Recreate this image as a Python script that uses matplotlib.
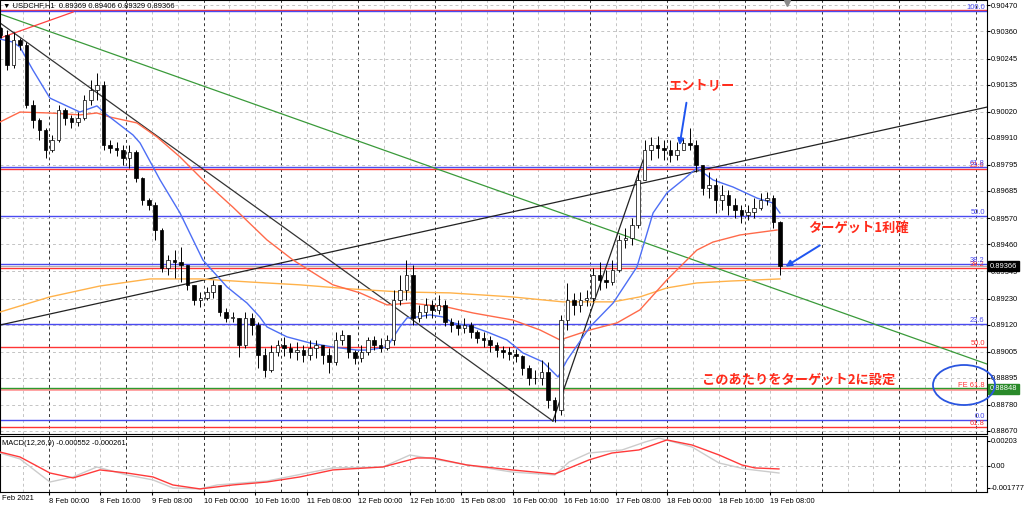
import numpy as np
import matplotlib
matplotlib.use("Agg")
import matplotlib.pyplot as plt
from matplotlib.patches import Rectangle, Ellipse

plt.rcParams['font.family'] = ['Liberation Sans', 'DejaVu Sans']

# ---- price data (2-hour candles, bar index in H1 units) ----
first_bar = -15
first_open = 0.90375
closes = [0.90345, 0.90218, 0.90324, 0.90303, 0.90049, 0.89985, 0.89943, 0.89858, 0.89901, 0.90028,
          0.89994, 0.89977, 0.89994, 0.90070, 0.90112, 0.90133, 0.89880, 0.89867, 0.89858, 0.89825,
          0.89850, 0.89740, 0.89647, 0.89626, 0.89520, 0.89359, 0.89393, 0.89385, 0.89372, 0.89288,
          0.89224, 0.89233, 0.89258, 0.89288, 0.89173, 0.89148, 0.89148, 0.89034, 0.89148, 0.89118,
          0.88991, 0.88928, 0.89004, 0.89034, 0.89021, 0.89004, 0.89012, 0.88991, 0.89021, 0.89034,
          0.88991, 0.88962, 0.89055, 0.89076, 0.89004, 0.88978, 0.89004, 0.89055, 0.89034, 0.89021,
          0.89055, 0.89224, 0.89266, 0.89330, 0.89148, 0.89173, 0.89203, 0.89182, 0.89203, 0.89131,
          0.89118, 0.89105, 0.89118, 0.89089, 0.89063, 0.89055, 0.89034, 0.89012, 0.89004, 0.88995,
          0.88987, 0.88936, 0.88894, 0.88894, 0.88919, 0.88801, 0.88759, 0.89139, 0.89224, 0.89203,
          0.89224, 0.89233, 0.89330, 0.89309, 0.89300, 0.89351, 0.89478, 0.89486, 0.89541, 0.89732,
          0.89858, 0.89880, 0.89867, 0.89858, 0.89837, 0.89858, 0.89888, 0.89880, 0.89795, 0.89698,
          0.89710, 0.89647, 0.89668, 0.89626, 0.89605, 0.89584, 0.89596, 0.89613, 0.89647, 0.89655,
          0.89554, 0.89366]
highs = [0.90379, 0.90366, 0.90358, 0.90332, 0.90315, 0.90070, 0.89994, 0.89952, 0.89922, 0.90049,
         0.90036, 0.90007, 0.90019, 0.90091, 0.90155, 0.90184, 0.90150, 0.89901, 0.89892, 0.89880,
         0.89880, 0.89858, 0.89745, 0.89655, 0.89638, 0.89530, 0.89414, 0.89435, 0.89448, 0.89372,
         0.89288, 0.89258, 0.89279, 0.89309, 0.89288, 0.89190, 0.89173, 0.89148, 0.89173, 0.89169,
         0.89131, 0.89021, 0.89034, 0.89055, 0.89068, 0.89042, 0.89047, 0.89034, 0.89055, 0.89055,
         0.89034, 0.89021, 0.89089, 0.89097, 0.89076, 0.89012, 0.89034, 0.89068, 0.89072, 0.89063,
         0.89076, 0.89266, 0.89330, 0.89393, 0.89372, 0.89203, 0.89233, 0.89224, 0.89245, 0.89224,
         0.89148, 0.89139, 0.89148, 0.89131, 0.89097, 0.89089, 0.89072, 0.89047, 0.89030, 0.89025,
         0.89017, 0.88991, 0.88949, 0.88928, 0.88970, 0.88962, 0.88814, 0.89161, 0.89296, 0.89254,
         0.89258, 0.89266, 0.89359, 0.89385, 0.89351, 0.89393, 0.89499, 0.89529, 0.89571, 0.89774,
         0.89901, 0.89914, 0.89918, 0.89901, 0.89901, 0.89892, 0.89909, 0.89952, 0.89901, 0.89795,
         0.89765, 0.89740, 0.89710, 0.89689, 0.89655, 0.89626, 0.89626, 0.89655, 0.89677, 0.89681,
         0.89668, 0.89560]
lows = [0.90332, 0.90197, 0.90205, 0.90281, 0.90036, 0.89952, 0.89901, 0.89825, 0.89850, 0.89892,
        0.89964, 0.89952, 0.89960, 0.89985, 0.90049, 0.90070, 0.89858, 0.89846, 0.89833, 0.89795,
        0.89782, 0.89723, 0.89626, 0.89605, 0.89478, 0.89342, 0.89330, 0.89317, 0.89300, 0.89266,
        0.89203, 0.89194, 0.89224, 0.89233, 0.89156, 0.89131, 0.89131, 0.88982, 0.89021, 0.89076,
        0.88936, 0.88898, 0.88919, 0.88987, 0.88987, 0.88978, 0.88970, 0.88962, 0.88970, 0.88978,
        0.88953, 0.88915, 0.88949, 0.89034, 0.88978, 0.88953, 0.88962, 0.88991, 0.89012, 0.89004,
        0.89012, 0.89034, 0.89203, 0.89224, 0.89118, 0.89131, 0.89148, 0.89148, 0.89165, 0.89114,
        0.89089, 0.89076, 0.89085, 0.89063, 0.89042, 0.89025, 0.89004, 0.88982, 0.88978, 0.88970,
        0.88962, 0.88907, 0.88865, 0.88869, 0.88865, 0.88767, 0.88708, 0.88738, 0.89097, 0.89161,
        0.89173, 0.89199, 0.89216, 0.89266, 0.89275, 0.89288, 0.89342, 0.89443, 0.89457, 0.89529,
        0.89732, 0.89816, 0.89825, 0.89816, 0.89808, 0.89816, 0.89858, 0.89858, 0.89765, 0.89668,
        0.89655, 0.89592, 0.89605, 0.89584, 0.89571, 0.89550, 0.89562, 0.89571, 0.89605, 0.89626,
        0.89529, 0.89330]

# moving averages (key points: bar index, price)
ma_fast_x = [-15.2, -11.2, -9.0, -5.0, 0.3, 9.6, 14.9, 18.0, 26.1, 28.3, 34.5, 40.7, 47.8, 55.3, 61.5,
             65.5, 67.7, 73.9, 81.1, 88.2, 95.7, 98.8, 105.0, 109.0, 111.2, 114.3, 118.3, 122.4, 125.5,
             131.7, 136.0, 142.2, 147.2, 153.4, 158.1, 160.9, 168.0, 175.2, 182.6, 187.6, 191.9, 196.9,
             201.2, 206.2, 212.4, 219.9, 224.8, 227.0]
ma_fast_y = [0.90328, 0.90315, 0.90294, 0.90197, 0.90078, 0.90019, 0.90045, 0.90007, 0.89922, 0.89888,
             0.89732, 0.89592, 0.89393, 0.89279, 0.89211, 0.89152, 0.89110, 0.89068, 0.89042, 0.89025,
             0.89012, 0.89012, 0.89025, 0.89110, 0.89148, 0.89152, 0.89161, 0.89152, 0.89127, 0.89110,
             0.89089, 0.89055, 0.89000, 0.88962, 0.88898, 0.88970, 0.89110, 0.89211, 0.89364, 0.89592,
             0.89677, 0.89732, 0.89782, 0.89732, 0.89702, 0.89655, 0.89634, 0.89592]
ma_mid_x = [-15.2, -9.0, 0.3, 9.6, 14.9, 18.9, 27.3, 33.5, 40.7, 47.8, 57.1, 67.7, 75.8, 84.2, 88.2,
            96.6, 105.0, 112.1, 123.6, 131.7, 144.1, 152.5, 158.7, 168.0, 176.4, 183.5, 191.9, 201.2,
            206.2, 214.6, 221.7, 226.1]
ma_mid_y = [0.89977, 0.90019, 0.90015, 0.90007, 0.90015, 0.89998, 0.89973, 0.89914, 0.89829, 0.89732,
            0.89617, 0.89478, 0.89393, 0.89321, 0.89288, 0.89254, 0.89203, 0.89211, 0.89194, 0.89169,
            0.89139, 0.89097, 0.89055, 0.89097, 0.89127, 0.89182, 0.89309, 0.89435, 0.89469, 0.89499,
            0.89512, 0.89520]
ma_slow_x = [-15.2, 0.3, 15.8, 31.4, 46.9, 62.4, 77.9, 93.5, 109.0, 124.5, 143.8, 159.6, 175.2, 183.5,
             191.9, 201.2, 211.5, 227.0]
ma_slow_y = [0.89173, 0.89237, 0.89283, 0.89313, 0.89313, 0.89300, 0.89288, 0.89271, 0.89258, 0.89254,
             0.89237, 0.89216, 0.89216, 0.89237, 0.89275, 0.89296, 0.89304, 0.89313]

# MACD (key points)
macd_x = [-15.2, -9.0, 0.3, 7.5, 14.9, 24.2, 32.3, 38.5, 46.9, 52.2, 67.7, 88.2, 103.7, 112.1, 119.3,
          129.8, 143.8, 157.1, 161.5, 167.7, 178.0, 185.1, 189.4, 199.7, 208.1, 216.1, 226.7]
macd_y = [0.00105, 0.00057, -0.00130, -0.00089, -0.00008, -0.00073, -0.00113, -0.00178, -0.00186,
          -0.00154, -0.00122, -0.00016, -0.00008, 0.00089, 0.00057, 0.00008, -0.00049, -0.00073,
          0.00032, 0.00105, 0.00130, 0.00194, 0.00227, 0.00154, 0.00024, -0.00024, -0.00057]
signal_x = [-15.2, -9.0, 0.3, 7.5, 15.8, 24.2, 32.3, 38.5, 46.9, 57.1, 67.7, 77.9, 88.2, 103.7, 114.3,
            119.3, 129.8, 143.8, 157.1, 167.7, 174.8, 183.2, 191.9, 199.7, 208.1, 215.2, 219.3, 226.7]
signal_y = [0.00113, 0.00073, -0.00057, -0.00097, -0.00032, -0.00057, -0.00089, -0.00154, -0.00186,
            -0.00154, -0.00130, -0.00089, -0.00032, -0.00008, 0.00065, 0.00065, 0.00008, -0.00032,
            -0.00065, 0.00049, 0.00105, 0.00130, 0.00211, 0.00170, 0.00089, 0.00008, -0.00016, -0.00024]

# trend lines (bar, price) pairs
trend_down = ([-15.2, 156.5], [0.90396, 0.88712])
trend_up = ([156.5, 184.5], [0.88712, 0.89816])
trend_long = ([-15.2, 291.3], [0.89118, 0.90040])
trend_green = ([-15.2, 291.3], [0.90434, 0.88953])
trend_red = ([-15.2, 7.5], [0.90332, 0.90442])

# fibonacci levels
fib_blue_hi, fib_blue_lo = 0.90446, 0.88716
fib_blue_levels = [100.0, 61.8, 50.0, 38.2, 23.6, 0.0]
fib_red_top, fib_red_bottom = 0.90451, 0.87596
fib_red_levels = [0.0, 23.6, 38.2, 50.0, 61.8]
fe_level = 0.88848
last_price = 0.89366

price_ticks = [0.90470, 0.90360, 0.90245, 0.90135, 0.90020, 0.89910, 0.89795, 0.89685, 0.89570,
               0.89460, 0.89345, 0.89230, 0.89120, 0.89005, 0.88895, 0.88780, 0.88670]
macd_ticks = [0.00203, 0.0, -0.001777]
macd_tick_labels = ['0.00203', '0.00', '-0.001777']
date_ticks = [0, 16, 32, 48, 64, 80, 96, 112, 128, 144, 160, 176, 192, 208, 224]
date_labels = ['8 Feb 00:00', '8 Feb 16:00', '9 Feb 08:00', '10 Feb 00:00', '10 Feb 16:00',
               '11 Feb 08:00', '12 Feb 00:00', '12 Feb 16:00', '15 Feb 08:00', '16 Feb 00:00',
               '16 Feb 16:00', '17 Feb 08:00', '18 Feb 00:00', '18 Feb 16:00', '19 Feb 08:00']

# ---- figure layout (pixel based, 1024x508) ----
W, H = 1024, 508
fig = plt.figure(figsize=(W / 100, H / 100), dpi=100)
fig.patch.set_facecolor('white')
small = 5.4


def frac(x0, y0, x1, y1):
    return [x0 / W, 1 - y1 / H, (x1 - x0) / W, (y1 - y0) / H]


ax = fig.add_axes(frac(0, 0, 987, 434))
axm = fig.add_axes(frac(0, 436, 987, 492), sharex=ax)
XMIN, XMAX = -15.2, 291.3
ax.set_xlim(XMIN, XMAX)
ax.set_ylim(0.88657, 0.90493)
axm.set_ylim(-0.00211, 0.00243)

grid_c = '#c4c4c4'
for a in (ax, axm):
    for b in range(-8, 292, 8):
        if b % 24 == 0:
            a.axvline(b, color='#333333', lw=0.7, ls=(0, (3, 3)), zorder=0)
        else:
            a.axvline(b, color=grid_c, lw=0.7, ls=(0, (3, 3)), zorder=0)
    for s in a.spines.values():
        s.set_color('black')
        s.set_linewidth(0.8)

for p in price_ticks:
    ax.axhline(p, color=grid_c, lw=0.7, ls=(0, (3, 3)), zorder=0)
axm.axhline(0.0, color=grid_c, lw=0.7, ls=(0, (3, 3)), zorder=0)

# fibonacci lines
blue_c = '#4a4af0'
red_c = '#ff3535'
for r in fib_red_levels:
    p = fib_red_top - r / 100 * (fib_red_top - fib_red_bottom)
    ax.axhline(p, color=red_c, lw=1.0, zorder=1)
    if r > 0:
        ax.text(290.6, p, '%.1f' % r, color=red_c, fontsize=small, ha='right', va='bottom')
for r in fib_blue_levels:
    p = fib_blue_lo + r / 100 * (fib_blue_hi - fib_blue_lo)
    ax.axhline(p, color=blue_c, lw=1.0, zorder=1)
    ax.text(290.6, p, '%.1f' % r, color=blue_c, fontsize=small, ha='right', va='bottom')
ax.axhline(fe_level, color='#ff9a9a', lw=2.0, zorder=1)
ax.axhline(fe_level + 0.00002, color='#2e9a2e', lw=1.0, zorder=1)
ax.text(290.6, fe_level, 'FE 61.8', color=red_c, fontsize=small, ha='right', va='bottom')
ax.axhline(last_price, color='#b0b0b0', lw=0.8, zorder=1)

# trend lines
ax.plot(*trend_green, color='#3a9a3a', lw=0.9, zorder=2)
ax.plot(*trend_red, color='#ff4040', lw=0.9, zorder=2)
ax.plot(*trend_long, color='#222222', lw=0.9, zorder=2)
ax.plot(*trend_down, color='#333333', lw=0.9, zorder=2)
ax.plot(*trend_up, color='#222222', lw=0.9, zorder=2)

# moving averages
ax.plot(ma_slow_x, ma_slow_y, color='#ffb24a', lw=1.0, zorder=3)
ax.plot(ma_mid_x, ma_mid_y, color='#ff6a4a', lw=1.0, zorder=3)
ax.plot(ma_fast_x, ma_fast_y, color='#4d6ef5', lw=1.0, zorder=3)

# candles
bars = first_bar + 2 * np.arange(len(closes))
opens = [first_open] + closes[:-1]
for x, o, h, l, c in zip(bars, opens, highs, lows, closes):
    hi = max(h, o, c)
    lo = min(l, o, c)
    ax.vlines(x, lo, hi, color='black', lw=0.7, zorder=4)
    body = max(abs(c - o), 0.00002)
    face = 'white' if c >= o else 'black'
    ax.add_patch(Rectangle((x - 0.55, min(o, c)), 1.1, body, facecolor=face,
                           edgecolor='black', lw=0.5, zorder=5))

# MACD
axm.plot(macd_x, macd_y, color='#cccccc', lw=1.0, zorder=3)
axm.plot(signal_x, signal_y, color='#ff3a3a', lw=1.0, zorder=4)
axm.text(0.002, 0.93, 'MACD(12,26,9) -0.000552 -0.000261', transform=axm.transAxes,
         fontsize=small, va='top', ha='left')

# axes ticks
ax.yaxis.tick_right()
ax.set_yticks(price_ticks)
ax.set_yticklabels(['%.5f' % p for p in price_ticks])
ax.tick_params(axis='y', labelsize=small, length=2, pad=1, colors='black')
ax.tick_params(axis='x', bottom=False, labelbottom=False)
axm.yaxis.tick_right()
axm.set_yticks(macd_ticks)
axm.set_yticklabels(macd_tick_labels)
axm.tick_params(axis='y', labelsize=small, length=2, pad=1)
axm.set_xticks(date_ticks)
axm.set_xticklabels(date_labels, ha='left')
axm.tick_params(axis='x', labelsize=small, length=2, pad=2)
fig.text(2 / W, 1 - 499 / H, 'Feb 2021', fontsize=small, va='center', ha='left')

# price boxes on the axis
yt = ax.get_yaxis_transform()
ax.text(1.003, last_price, '0.89366', transform=yt, fontsize=small, color='white', va='center',
        ha='left', bbox=dict(boxstyle='square,pad=0.2', fc='black', ec='black'), clip_on=False, zorder=10)
ax.text(1.003, fe_level, '0.88848', transform=yt, fontsize=small, color='white', va='center',
        ha='left', bbox=dict(boxstyle='square,pad=0.2', fc='#2a8a2a', ec='#2a8a2a'), clip_on=False, zorder=10)

# title
fig.text(3 / W, 1 - 6 / H, '\u25bc USDCHF,H1  0.89369 0.89406 0.89329 0.89366', fontsize=small,
         va='center', ha='left')
ax.plot([229.2], [0.90480], marker='v', color='#8a8a8a', ms=5, clip_on=False, zorder=10)

# annotations
jp = ['Noto Sans CJK JP', 'DejaVu Sans']
txt_c = '#ff2a1a'
arrow_c = '#1f55f0'
ax.text(192.2, 0.90133, 'エントリー', family=jp, fontsize=9.5, fontweight='bold', color=txt_c,
        va='center', ha='left', zorder=11)
ax.annotate('', xy=(195.7, 0.89867), xytext=(198.1, 0.90070),
            arrowprops=dict(arrowstyle='-|>', color=arrow_c, lw=1.4, mutation_scale=9), zorder=11)
ax.text(235.7, 0.89524, 'ターゲット1利確', family=jp, fontsize=9.5, fontweight='bold', color=txt_c,
        va='center', ha='left', zorder=11)
ax.annotate('', xy=(228.0, 0.89359), xytext=(240.1, 0.89461),
            arrowprops=dict(arrowstyle='-|>', color=arrow_c, lw=1.4, mutation_scale=9), zorder=11)
ax.text(202.8, 0.88886, 'このあたりをターゲット2に設定', family=jp, fontsize=9.5, fontweight='bold',
        color=txt_c, va='center', ha='left', zorder=11)
fig.add_artist(Ellipse((964 / W, 1 - 385 / H), 62 / W, 40 / H, transform=fig.transFigure,
                       fill=False, ec='#2a55e0', lw=1.3, zorder=12))

fig.savefig('out.png', dpi=100)
